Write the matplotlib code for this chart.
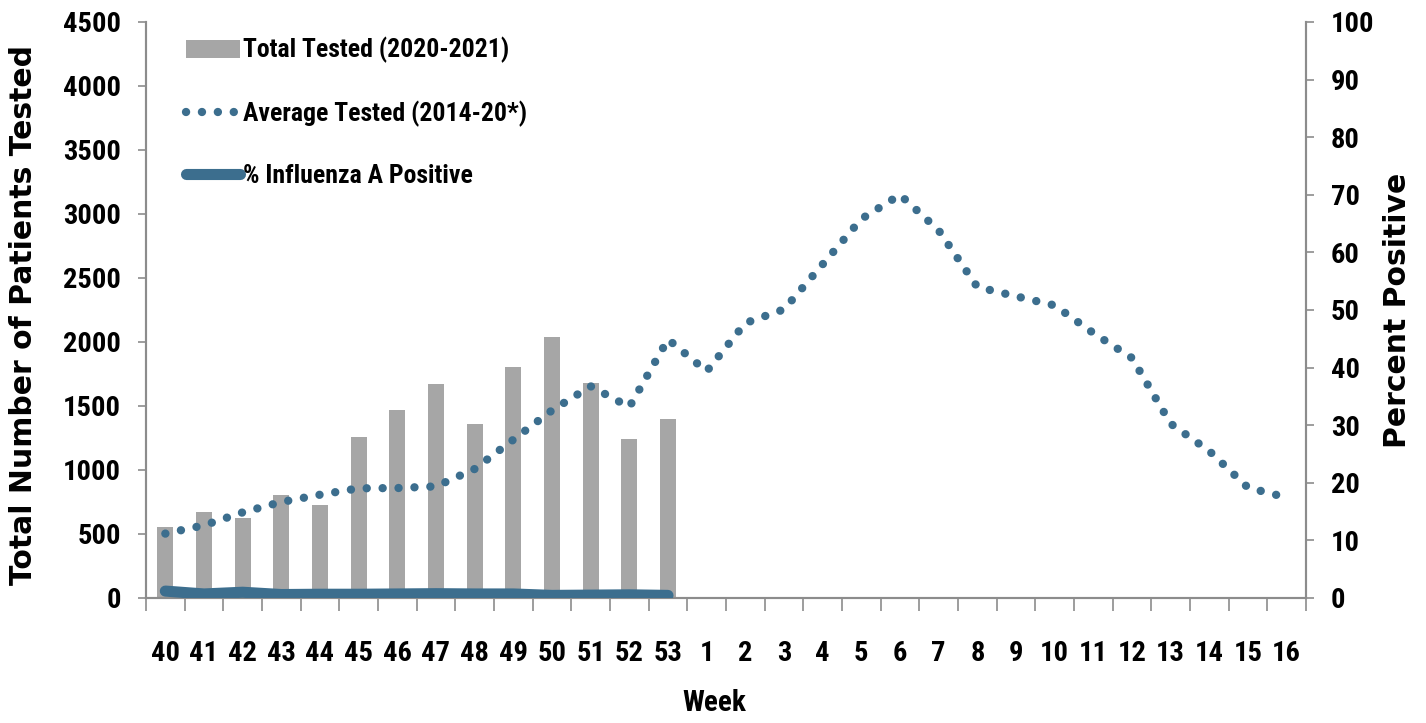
import matplotlib
matplotlib.use("Agg")
import matplotlib.pyplot as plt
from matplotlib import font_manager
import numpy as np

weeks = ["40", "41", "42", "43", "44", "45", "46", "47", "48", "49", "50", "51", "52", "53",
         "1", "2", "3", "4", "5", "6", "7", "8", "9", "10", "11", "12", "13", "14", "15", "16"]
total_tested = [557, 670, 625, 807, 729, 1255, 1466, 1670, 1357, 1805, 2042, 1677, 1242, 1396]
average_tested = [503, 568, 669, 750, 807, 857, 859, 872, 1008, 1237, 1466, 1654, 1492, 2021,
                  1771, 2148, 2255, 2607, 2961, 3150, 2872, 2430, 2357, 2286, 2070, 1875,
                  1362, 1148, 862, 785]
pct_flu_a = [1.2, 0.7, 1.0, 0.6, 0.65, 0.65, 0.7, 0.75, 0.7, 0.7, 0.45, 0.5, 0.55, 0.45]
left_ticks = [0, 500, 1000, 1500, 2000, 2500, 3000, 3500, 4000, 4500]
right_ticks = [0, 10, 20, 30, 40, 50, 60, 70, 80, 90, 100]

names = {f.name for f in font_manager.fontManager.ttflist}
narrow = [n for n in ["Liberation Sans Narrow", "Roboto Condensed", "Open Sans Condensed"] if n in names]
cond = narrow + ["Liberation Sans", "DejaVu Sans"]

BAR = "#A6A6A6"
BLUE = "#3C6E8E"
SPINE = "#8C8C8C"

fig = plt.figure(figsize=(14.26, 7.23), dpi=100)
ax = fig.add_axes([146/1426, 1-598/723, (1306-146)/1426, (598-22)/723])
ax2 = ax.twinx()

x = np.arange(len(weeks))
b = ax.bar(x[:len(total_tested)], total_tested, width=0.42, color=BAR, zorder=2,
           label="Total Tested (2020-2021)")
l1, = ax.plot(x, average_tested, color=BLUE, lw=6.0, linestyle=(0, (0.01, 1.9)),
              dash_capstyle="round", zorder=3, label="Average Tested (2014-20*)")
l2, = ax2.plot(x[:len(pct_flu_a)], pct_flu_a, color=BLUE, lw=8.0, solid_capstyle="round",
               zorder=4, label="% Influenza A Positive")

ax.set_xlim(-0.5, len(weeks) - 0.5)
ax.set_ylim(0, 4500)
ax2.set_ylim(0, 100)
ax.set_yticks(left_ticks)
ax2.set_yticks(right_ticks)
ax.set_xticks(x)
ax.set_xticklabels(weeks)
ax.set_xticks(np.arange(len(weeks) + 1) - 0.5, minor=True)
ax.tick_params(axis="x", which="major", length=0, pad=30)
ax.tick_params(axis="x", which="minor", length=9, width=1.2, color=SPINE, direction="out")
ax.tick_params(axis="y", length=6, width=1.2, color=SPINE, direction="out", pad=12)
ax2.tick_params(axis="y", length=6, width=1.2, color=SPINE, direction="out", pad=12)

for a in (ax, ax2):
    a.spines["top"].set_visible(False)
    for s in ("left", "right", "bottom"):
        a.spines[s].set_color(SPINE)
        a.spines[s].set_linewidth(1.5)

for lab in ax.get_xticklabels() + ax.get_yticklabels() + ax2.get_yticklabels():
    lab.set_fontfamily(cond)
    lab.set_fontweight("bold")
    lab.set_fontsize(20.5)

ax.set_xlabel("Week", fontfamily=cond, fontweight="bold", fontsize=21)
ax.xaxis.set_label_coords((714-146)/1160, -(703-598)/576)
ax.xaxis.label.set_va("center")
ax.set_ylabel("Total Number of Patients Tested", fontfamily=["DejaVu Sans"], fontweight="bold", fontsize=21.5)
ax.yaxis.set_label_coords(-(146-24)/1160, 1-(315-22)/576)
ax.yaxis.label.set_va("center")
ax2.set_ylabel("Percent Positive", fontfamily=["DejaVu Sans"], fontweight="bold", fontsize=21.5, rotation=90)
ax2.yaxis.set_label_coords(1+(1397-1306)/1160, 1-(310-22)/576)
ax2.yaxis.label.set_va("center")

leg = ax2.legend([b, l1, l2], [b.get_label(), l1.get_label(), l2.get_label()],
                 loc="upper left", bbox_to_anchor=((186-146)/1160, 1-(37-22)/576),
                 frameon=False, handlelength=2.1, handletextpad=0.1, labelspacing=1.44,
                 borderaxespad=0, borderpad=0, prop=dict(family=cond, weight="bold", size=18.5))

fig.savefig("out.png", dpi=100)
